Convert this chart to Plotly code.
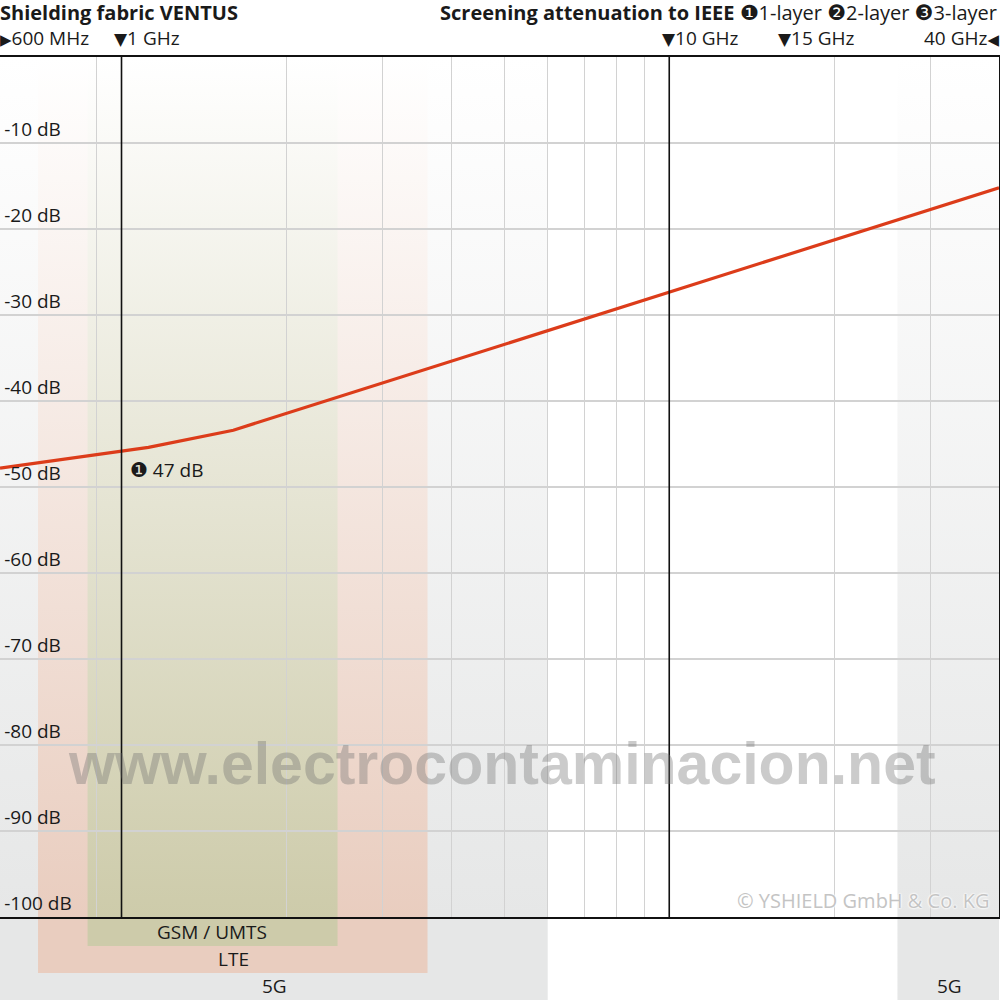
import math
import plotly.graph_objects as go

# ---------------- data ----------------
freq_ghz = [0.6, 1.12, 1.6, 40.0]
atten_db = [-47.8, -45.4, -43.4, -15.2]

grid_freqs = [0.7, 0.8, 0.9, 2, 3, 4, 5, 6, 7, 8, 9, 20, 30]
marker_freqs = [1, 10]
y_ticks = [-10, -20, -30, -40, -50, -60, -70, -80, -90, -100]
y_ticktext = ["-10 dB", "-20 dB", "-30 dB", "-40 dB", "-50 dB", "-60 dB",
              "-70 dB", "-80 dB", "-90 dB", "-100 dB"]

band_names = ["5G", "5G", "LTE", "GSM / UMTS"]
band_lo = [0.6, 26.1, 0.704, 0.867]
band_hi = [6.0, 40.0, 3.62, 2.48]

# ---------------- layout constants ----------------
F_MIN, F_MAX = 0.6, 40.0
XR = [math.log10(F_MIN), math.log10(F_MAX)]
X_DOM = [0.0, 0.999]
Y_DOM = [0.083, 0.943]           # main plot area (paper)
DB_PER_PAPER = 100.0 / (Y_DOM[1] - Y_DOM[0])

def paper_to_db(p):
    return -100.0 + (p - Y_DOM[0]) * DB_PER_PAPER

band_bottom_paper = [0.0, 0.0, 0.027, 0.054]
band_colors = ["#e6e7e7", "#e9cdbf", "#cdcbaa"]
band_color_idx = [0, 0, 1, 2]

fig = go.Figure()

# bands (full-figure subplot x/y)
for name, lo, hi, bp, ci in zip(band_names, band_lo, band_hi, band_bottom_paper, band_color_idx):
    yb = paper_to_db(bp)
    yt = 0.0
    fig.add_trace(go.Scatter(
        x=[lo, hi, hi, lo, lo], y=[yb, yb, yt, yt, yb],
        mode="lines", line=dict(width=0), fill="toself",
        fillgradient=dict(type="vertical",
                          colorscale=[[0, band_colors[ci]], [1, "#ffffff"]],
                          start=-100, stop=0),
        hoverinfo="skip", showlegend=False, xaxis="x", yaxis="y"))

# attenuation curve (main subplot x2/y2)
fig.add_trace(go.Scatter(
    x=freq_ghz, y=atten_db, mode="lines",
    line=dict(color="#dc3c1a", width=3.2),
    showlegend=False, xaxis="x2", yaxis="y2"))

FONT = "Open Sans, DejaVu Sans, sans-serif"

fig.update_layout(
    width=1000, height=1000,
    margin=dict(l=0, r=0, t=0, b=0),
    paper_bgcolor="white", plot_bgcolor="rgba(0,0,0,0)",
    font=dict(family=FONT, size=19, color="#1a1a1a"),
    xaxis=dict(type="log", range=XR, domain=X_DOM, visible=False,
               anchor="y", fixedrange=True),
    yaxis=dict(range=[paper_to_db(0), paper_to_db(1)], domain=[0, 1],
               visible=False, anchor="x", fixedrange=True),
    xaxis2=dict(type="log", range=XR, domain=X_DOM, anchor="y2",
                tickvals=grid_freqs, showticklabels=False, ticks="",
                showgrid=True, gridcolor="#d2d2d2", gridwidth=1,
                showline=True, linecolor="#111111", linewidth=2, mirror=True,
                zeroline=False),
    yaxis2=dict(range=[-100, 0], domain=Y_DOM, anchor="x2",
                tickvals=y_ticks, ticktext=y_ticktext, ticks="",
                ticklabelposition="inside top", ticklabelstandoff=4,
                tickfont=dict(family=FONT, size=19, color="#1a1a1a"),
                showgrid=True, gridcolor="#d2d2d2", gridwidth=1.5,
                showline=True, linecolor="#111111", linewidth=2, mirror=True,
                zeroline=False),
)

# vertical marker lines at 1 GHz and 10 GHz
for f in marker_freqs:
    fig.add_shape(type="line", xref="x2", yref="y2 domain",
                  x0=f, x1=f, y0=0, y1=1,
                  line=dict(color="#111111", width=1.6), layer="above")

ann = []
def A(text, x, y, xanchor="left", yanchor="middle", size=19, color="#1a1a1a", **kw):
    ann.append(dict(text=text, x=x, y=y, xref="paper", yref="paper",
                    xanchor=xanchor, yanchor=yanchor, showarrow=False,
                    font=dict(family=FONT, size=size, color=color), **kw))

def sym(ch, size=21):
    return f'<span style="font-family:DejaVu Sans;font-size:{size}px">{ch}</span>'

A("<b>Shielding fabric VENTUS</b>", -0.002, 0.988, size=20)
A("<b>Screening attenuation to IEEE</b> " + sym("❶") + "1-layer " + sym("❷")
  + "2-layer " + sym("❸") + "3-layer", 0.999, 0.988, xanchor="right", size=20)
A(sym("▶", 15) + "600 MHz", -0.002, 0.962)
A(sym("▼", 17) + "1 GHz", 0.112, 0.962)
A(sym("▼", 17) + "10 GHz", 0.660, 0.962)
A(sym("▼", 17) + "15 GHz", 0.776, 0.962)
A("40 GHz" + sym("◀", 15), 1.001, 0.962, xanchor="right")
A(sym("❶", 20) + " 47 dB", 0.128, 0.530)

A("GSM / UMTS", 0.212, 0.068, xanchor="center")
A("LTE", 0.233, 0.041, xanchor="center")
A("5G", 0.274, 0.014, xanchor="center")
A("5G", 0.949, 0.014, xanchor="center")

ann.append(dict(text="<b>www.electrocontaminacion.net</b>", x=0.502, y=0.236,
                xref="paper", yref="paper", xanchor="center", yanchor="middle",
                showarrow=False,
                font=dict(family="Liberation Sans, Arial, sans-serif", size=59,
                          color="rgba(110,110,110,0.36)")))
ann.append(dict(text="© YSHIELD GmbH & Co. KG", x=0.991, y=0.100,
                xref="paper", yref="paper", xanchor="right", yanchor="middle",
                showarrow=False,
                font=dict(family=FONT, size=20, color="#c4c4c4",
                          shadow="0 0 2px #ffffff, 0 0 2px #ffffff, 0 0 3px #ffffff")))

fig.update_layout(annotations=ann)

fig.write_html("out.html", config={"displayModeBar": False},
               post_script="document.body.style.margin='0';document.body.style.padding='0';")
